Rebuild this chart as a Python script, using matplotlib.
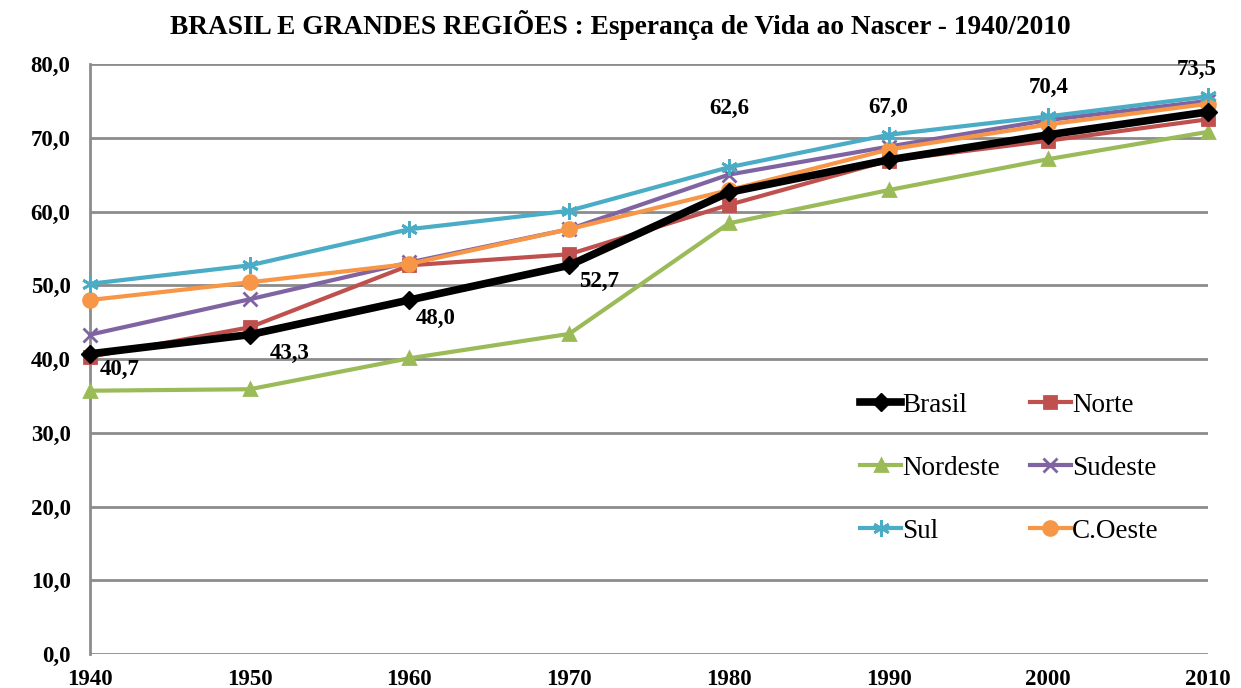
import numpy as np
import matplotlib.pyplot as plt

plt.rcParams['font.family'] = ['Liberation Serif', 'DejaVu Serif']

anos = ['1940', '1950', '1960', '1970', '1980', '1990', '2000', '2010']
brasil = [40.7, 43.3, 48.0, 52.7, 62.6, 67.0, 70.4, 73.5]
norte = [40.3, 44.3, 52.7, 54.2, 60.9, 66.9, 69.6, 72.5]
nordeste = [35.7, 35.9, 40.1, 43.4, 58.4, 62.9, 67.1, 70.8]
sudeste = [43.3, 48.1, 53.1, 57.6, 65.0, 68.8, 72.4, 75.0]
sul = [50.2, 52.7, 57.6, 60.1, 66.0, 70.4, 72.9, 75.6]
coeste = [48.0, 50.4, 52.9, 57.6, 62.9, 68.4, 71.8, 74.6]

x = np.arange(len(anos))

fig = plt.figure(figsize=(12.41, 6.88), dpi=100)
ax = fig.add_axes([90/1241, 34/688, 1118/1241, 590/688])

series = [
    ('Nordeste', nordeste, '#9BBB59', '^', 9, 3),
    ('Norte', norte, '#C0504D', 's', 9, 3),
    ('Sudeste', sudeste, '#8064A2', 'x', 10, 3),
    ('C.Oeste', coeste, '#F79646', 'o', 10, 3),
    ('Sul', sul, '#4BACC6', (6, 2, 0), 12, 3),
]
handles = {}
for nome, vals, cor, mk, ms, lw in series:
    h, = ax.plot(x, vals, color=cor, marker=mk, markersize=ms, lw=lw,
                 markeredgewidth=2, markeredgecolor=cor, clip_on=False, zorder=3)
    handles[nome] = h
h, = ax.plot(x, brasil, color='black', marker='D', markersize=9, lw=5.5,
             clip_on=False, zorder=4)
handles['Brasil'] = h

# rótulos do Brasil (deslocamento em pixels)
offs = [(30, -16), (40, -19), (26, -18), (30, -16), (0, 84), (0, 52), (0, 47), (-11, 42)]
for xi, v, (dx, dy) in zip(x, brasil, offs):
    ax.annotate(f'{v:.1f}'.replace('.', ','), (xi, v), xytext=(dx, dy),
                textcoords='offset pixels', ha='center', va='center',
                fontsize=16.5, fontweight='bold', zorder=5)

ax.set_xlim(0, len(anos) - 1)
ax.set_ylim(0, 80)
ax.set_yticks(np.arange(0, 81, 10))
ax.set_yticklabels([f'{v:.1f}'.replace('.', ',') for v in np.arange(0, 81, 10)])
ax.set_xticks(x)
ax.set_xticklabels(anos)
for lab in ax.get_xticklabels() + ax.get_yticklabels():
    lab.set_fontweight('bold')
    lab.set_fontsize(16.5)
ax.tick_params(axis='y', length=0, pad=14)
ax.tick_params(axis='x', length=0, pad=11)
ax.yaxis.grid(True, color='#8c8c8c', lw=2)
ax.set_axisbelow(True)
for s in ['top', 'right', 'bottom']:
    ax.spines[s].set_visible(False)
ax.spines['left'].set_color('#8c8c8c')
ax.spines['left'].set_linewidth(2)

# legenda preenchida por linhas: Brasil/Norte, Nordeste/Sudeste, Sul/C.Oeste
ordem = ['Brasil', 'Nordeste', 'Sul', 'Norte', 'Sudeste', 'C.Oeste']
ax.legend([handles[n] for n in ordem], ordem, ncol=2, frameon=False,
          fontsize=19.5, loc='center left', bbox_to_anchor=(0.677, 0.315),
          borderpad=0, handlelength=1.5, handletextpad=0.05,
          columnspacing=1.1, labelspacing=1.4)

fig.text(0.5, 0.964, 'BRASIL E GRANDES REGIÕES : Esperança de Vida ao Nascer - 1940/2010',
         ha='center', va='center', fontsize=19.7, fontweight='bold')

fig.savefig('out.png', dpi=100)
